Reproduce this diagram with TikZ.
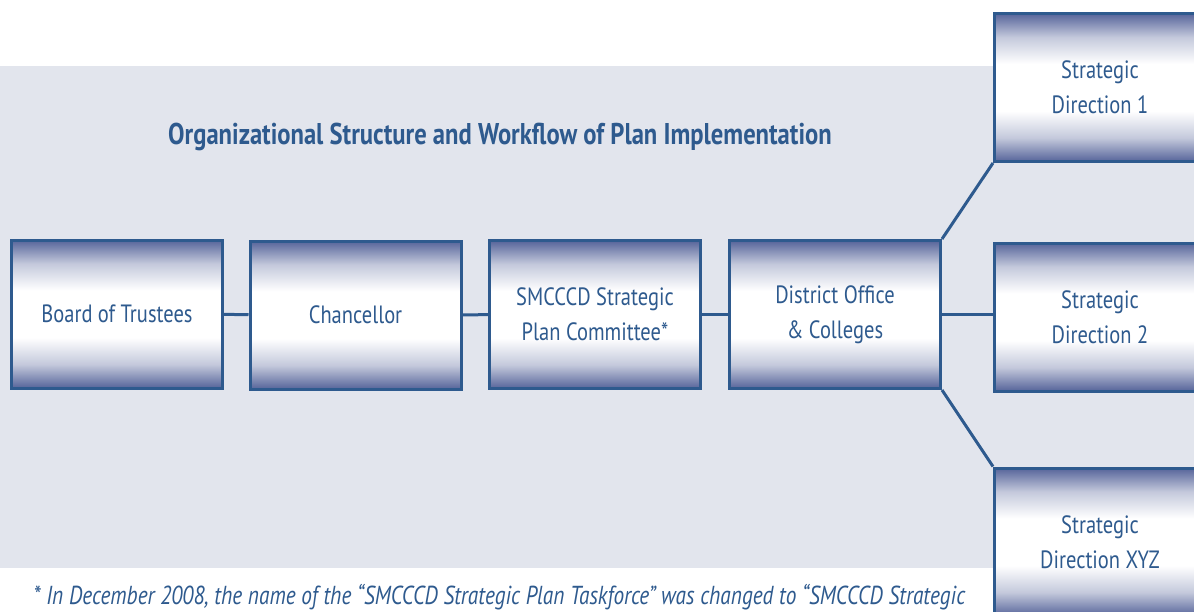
\documentclass[tikz,border=0pt]{standalone}
\usepackage{fontspec}
\setmainfont[FakeStretch=0.82]{PT Sans}
\usepackage{xcolor}
\usepackage{tikz}
\usetikzlibrary{shapes,positioning}
\definecolor{smblue}{HTML}{2E5A8E}
\definecolor{smgray}{HTML}{E2E5ED}
\definecolor{smdark}{HTML}{56649A}
\pgfdeclareverticalshading{boxshade}{100bp}{color(0bp)=(smdark); color(25bp)=(smdark); color(33bp)=(white!65!smdark); color(42bp)=(white); color(58bp)=(white); color(67bp)=(white!65!smdark); color(75bp)=(smdark); color(100bp)=(smdark)}
\tikzset{blk/.style={rectangle,draw=smblue,line width=3pt,shading=boxshade,minimum width=211pt,minimum height=148pt,inner sep=0pt,align=center,text=smblue,font=\fontsize{25}{35}\selectfont},
link/.style={draw=smblue,line width=3pt}}

\begin{document}
\begin{tikzpicture}[x=1pt,y=-1pt]
    \useasboundingbox (0,0) rectangle (1194,611);
    \fill[smgray] (0,66) rectangle (1194,568);

    \node[text=smblue,font=\bfseries\fontsize{30}{34}\selectfont] (title) at (500,137) {Organizational Structure and Workflow of Plan Implementation};

    \node[blk] (bot) at (117,314) {Board of Trustees};
    \node[blk] (chan) at (355.5,315) {Chancellor};
    \node[blk] (spc) at (595,314.5) {SMCCCD Strategic\\Plan Committee*};
    \node[blk] (doc) at (835,314.5) {District Office\\\& Colleges};
    \node[blk] (sd1) at (1100,87.5) {Strategic\\Direction 1};
    \node[blk] (sd2) at (1100,317) {Strategic\\Direction 2};
    \node[blk] (sdx) at (1100,542) {Strategic\\Direction XYZ};

    \draw[link] (bot) -- (chan);
    \draw[link] (chan) -- (spc);
    \draw[link] (spc) -- (doc);
    \draw[link] (doc.north east) -- (sd1.south west);
    \draw[link] (doc.east) -- (doc.east -| sd2.west);
    \draw[link] (doc.south east) -- (sdx.north west);

    \node[anchor=west,text=smblue,font=\itshape\fontsize{26}{28}\selectfont] (note) at (30,597) {* In December 2008, the name of the ``SMCCCD Strategic Plan Taskforce'' was changed to ``SMCCCD Strategic};
\end{tikzpicture}
\end{document}
